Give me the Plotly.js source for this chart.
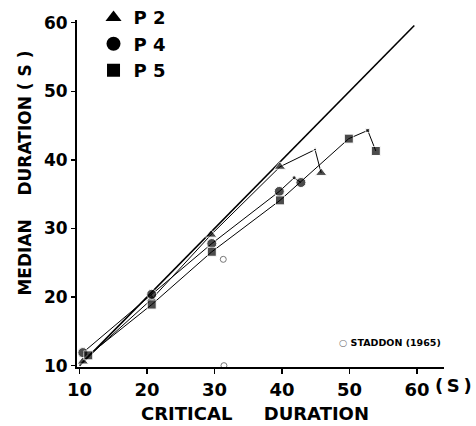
<!DOCTYPE html>
<html>
<head>
<meta charset="utf-8">
<script src="https://cdn.plot.ly/plotly-3.0.1.min.js"></script>
<style>html,body{margin:0;padding:0;background:#fff;}#chart{width:476px;height:426px;}</style>
</head>
<body>
<div id="chart"></div>
<script>
// Critical duration (s) vs median duration (s)
const p2X = [10.5, 20.7, 29.5, 39.7, 44.9, 45.8];
const p2Y = [10.6, 19.7, 29.1, 39.0, 41.5, 38.1];
const p4X = [10.5, 20.7, 29.6, 39.6, 41.8, 42.8];
const p4Y = [11.9, 20.4, 27.8, 35.4, 37.4, 36.7];
const p5X = [11.3, 20.7, 29.6, 39.7, 49.9, 52.7, 53.9];
const p5Y = [11.5, 18.9, 26.6, 34.1, 43.1, 44.3, 41.3];
// small (unmarked) peak points flagged per series
const p2Small = [false, false, false, false, true, false];
const p4Small = [false, false, false, false, true, false];
const p5Small = [false, false, false, false, false, true, false];
const staddonX = [31.3, 31.4];
const staddonY = [25.5, 10.0];
const identityX = [10, 59.6];
const identityY = [10, 59.6];
const xTicks = [10, 20, 30, 40, 50, 60];
const yTicks = [10, 20, 30, 40, 50, 60];
const seriesNames = ['P 2', 'P 4', 'P 5'];

const FONT = 'DejaVu Sans, Liberation Sans, Arial, sans-serif';

function sizes(flags, big) { return flags.map(f => f ? 4 : big); }

const lineStyle = {color: '#000', width: 1};
const traces = [
  {x: identityX, y: identityY, mode: 'lines', line: {color: '#000', width: 1.6}, showlegend: false, hoverinfo: 'skip'},
  {x: p2X, y: p2Y, mode: 'lines+markers', line: lineStyle, marker: {symbol: 'triangle-up', size: sizes(p2Small, 10), color: '#000'}, showlegend: false},
  {x: p4X, y: p4Y, mode: 'lines+markers', line: lineStyle, marker: {symbol: 'circle', size: sizes(p4Small, 10), color: '#000'}, showlegend: false},
  {x: p5X, y: p5Y, mode: 'lines+markers', line: lineStyle, marker: {symbol: 'square', size: sizes(p5Small, 9), color: '#000'}, showlegend: false},
  {x: staddonX, y: staddonY, mode: 'markers', marker: {symbol: 'circle-open', size: 6, color: '#777', line: {width: 1, color: '#777'}}, showlegend: false, cliponaxis: false},
  {x: [null], y: [null], mode: 'markers', name: seriesNames[0], marker: {symbol: 'triangle-up', size: 14, color: '#000'}, legendgroup: 'a'},
  {x: [null], y: [null], mode: 'markers', name: seriesNames[1], marker: {symbol: 'circle', size: 14, color: '#000'}, legendgroup: 'b'},
  {x: [null], y: [null], mode: 'markers', name: seriesNames[2], marker: {symbol: 'square', size: 13, color: '#000'}, legendgroup: 'c'}
];

const layout = {
  width: 476, height: 426,
  margin: {l: 77, r: 32, t: 20, b: 59, autoexpand: false},
  paper_bgcolor: '#fff', plot_bgcolor: '#fff',
  font: {family: FONT, color: '#000', size: 17, weight: 'bold'},
  xaxis: {
    range: [9.63, 64], tickvals: xTicks, ticktext: xTicks.map(String),
    showgrid: false, zeroline: false, showline: true, linecolor: '#000', linewidth: 2,
    ticks: 'outside', ticklen: 5, tickwidth: 1.5, tickcolor: '#000',
    tickfont: {family: FONT, size: 18, weight: 'bold', color: '#000'}
  },
  yaxis: {
    range: [9.8, 60.4], tickvals: yTicks, ticktext: yTicks.map(String),
    showgrid: false, zeroline: false, showline: true, linecolor: '#000', linewidth: 2,
    ticks: 'outside', ticklen: 4, tickwidth: 1.5, tickcolor: '#000',
    tickfont: {family: FONT, size: 17, weight: 'bold', color: '#000'}
  },
  showlegend: true,
  legend: {
    x: 0.045, y: 1.06, xanchor: 'left', yanchor: 'top',
    bgcolor: 'rgba(0,0,0,0)', traceorder: 'grouped', tracegroupgap: 0,
    font: {family: FONT, size: 18, weight: 'bold', color: '#000'},
    itemwidth: 30
  },
  annotations: [
    {xref: 'paper', yref: 'paper', x: -0.142, y: 0.56, xanchor: 'center', yanchor: 'middle', textangle: -90, showarrow: false,
     text: 'MEDIAN\u00a0\u00a0\u00a0\u00a0DURATION\u00a0(\u00a0S\u00a0)', font: {family: FONT, size: 17, weight: 'bold', color: '#000'}},
    {xref: 'paper', yref: 'paper', x: 0.486, y: -0.133, xanchor: 'center', yanchor: 'middle', showarrow: false,
     text: 'CRITICAL\u00a0\u00a0\u00a0\u00a0\u00a0DURATION', font: {family: FONT, size: 18, weight: 'bold', color: '#000'}},
    {xref: 'paper', yref: 'paper', x: 1.082, y: -0.052, xanchor: 'right', yanchor: 'middle', showarrow: false,
     text: '(\u2009S\u2009)', font: {family: FONT, size: 18, weight: 'bold', color: '#000'}},
    {xref: 'paper', yref: 'paper', x: 0.853, y: 0.072, xanchor: 'center', yanchor: 'middle', showarrow: false,
     text: '<span style="color:#777">○</span> STADDON (1965)', font: {family: FONT, size: 9.5, weight: 'bold', color: '#000'}}
  ]
};

Plotly.newPlot('chart', traces, layout, {displayModeBar: false, staticPlot: true});
</script>
</body>
</html>
